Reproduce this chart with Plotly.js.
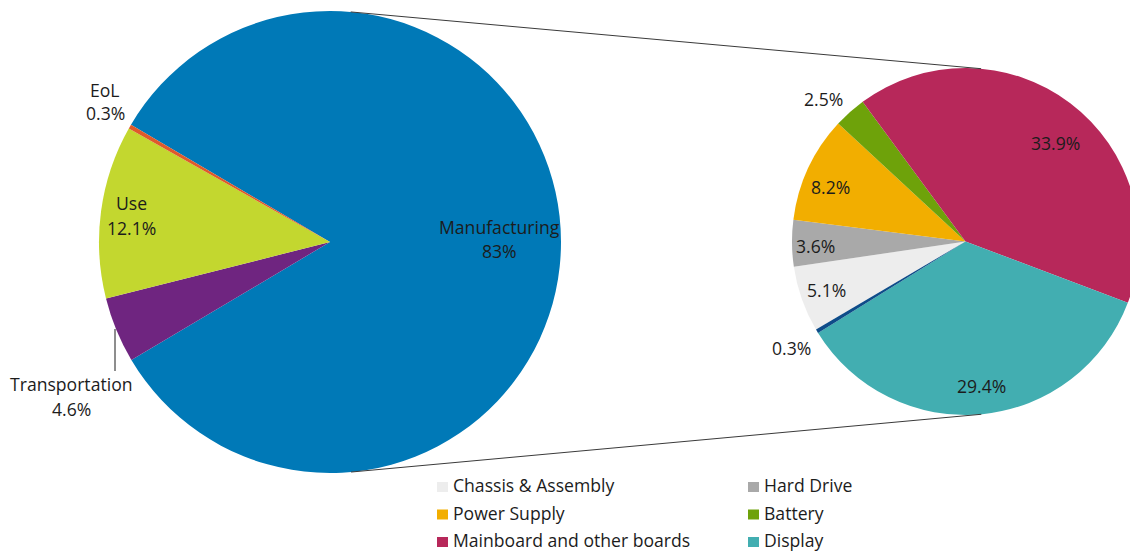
<!DOCTYPE html>
<html>
<head>
<meta charset="utf-8">
<script src="https://cdn.plot.ly/plotly-3.0.1.min.js"></script>
<style>
html, body { margin: 0; padding: 0; overflow: hidden; background: #ffffff; }
#chart { width: 1150px; height: 552px; }
</style>
</head>
<body>
<div id="chart"></div>
<script>
// ---- data ----
const mainLabels = ['Manufacturing', 'Transportation', 'Use', 'EoL'];
const mainValues = [83, 4.6, 12.1, 0.3];
const mainColors = ['#0079B7', '#6F2580', '#C3D72F', '#DF5A2B'];

const subLabels = ['Chassis & Assembly', 'Hard Drive', 'Power Supply', 'Battery',
                   'Mainboard and other boards', 'Display', 'Packaging'];
const subValues = [5.1, 3.6, 8.2, 2.5, 33.9, 29.4, 0.3];
const subColors = ['#EDEDED', '#A9A9A9', '#F2AE00', '#6EA20A', '#B7285A', '#42AEB1', '#0E4C89'];

// ---- geometry (pixels) ----
const W = 1150, H = 552;
const C1 = {x: 330, y: 242, r: 231};       // main pie
const C2 = {x: 965.5, y: 241.5, r: 173.5}; // breakdown pie
const px = x => x / W;
const py = y => 1 - y / H;
const FONT = {family: 'Open Sans, Noto Sans, sans-serif', size: 17.6, color: '#1c1c1c'};

function dom(c) {
  return {x: [px(c.x - c.r), px(c.x + c.r)], y: [py(c.y + c.r), py(c.y - c.r)]};
}

const traces = [
  {
    type: 'pie', labels: mainLabels, values: mainValues,
    marker: {colors: mainColors, line: {width: 0}},
    sort: false, direction: 'clockwise', rotation: -59.5,
    textinfo: 'none', hoverinfo: 'label+value', showlegend: false,
    domain: dom(C1)
  },
  {
    type: 'pie', labels: subLabels, values: subValues,
    marker: {colors: subColors, line: {width: 0}},
    sort: false, direction: 'clockwise', rotation: -120.5,
    textinfo: 'none', hoverinfo: 'label+value', showlegend: false,
    domain: dom(C2)
  }
];

const pct = v => v + '%';
const annotations = [];
function addText(t, x, y, opts) {
  annotations.push(Object.assign({
    text: t, x: px(x), y: py(y), xref: 'paper', yref: 'paper',
    xanchor: 'center', yanchor: 'middle', showarrow: false, font: FONT
  }, opts || {}));
}

// main pie labels: [name pos, value pos]
const mainLabelPos = [[499, 226.5, 499, 251], [71.5, 384, 71.5, 409], [131, 202.5, 131, 227.5], [105, 89.5, 105.5, 113]];
mainLabels.forEach((l, i) => {
  const p = mainLabelPos[i];
  addText(l, p[0], p[1]);
  addText(pct(mainValues[i]), p[2], p[3]);
});

// breakdown labels
const subLabelPos = [[826, 289.5], [816, 245.5], [830.5, 187], [823.5, 99.5], [1055, 142.5], [981, 386], [791, 348]];
subLabels.forEach((l, i) => {
  addText(pct(subValues[i]), subLabelPos[i][0], subLabelPos[i][1]);
});

const shapes = [];
// leader line for Transportation
shapes.push({type: 'line', xref: 'paper', yref: 'paper', x0: px(115), x1: px(115), y0: py(329), y1: py(371),
             line: {color: '#1c1c1c', width: 1}});

// connector lines (external tangents between the two pies)
(function () {
  const dx = C2.x - C1.x, dy = C2.y - C1.y;
  const d = Math.hypot(dx, dy);
  const phi = Math.atan2(dy, dx);
  const a = Math.acos((C1.r - C2.r) / d);
  [phi - a, phi + a].forEach(ang => {
    const nx = Math.cos(ang), ny = Math.sin(ang);
    shapes.push({type: 'line', xref: 'paper', yref: 'paper',
      x0: px(C1.x + C1.r * nx), y0: py(C1.y + C1.r * ny),
      x1: px(C2.x + C2.r * nx), y1: py(C2.y + C2.r * ny),
      line: {color: '#3a3a3a', width: 1}});
  });
})();

// legend (two columns)
const legCols = [437, 748], legRow0 = 487, legRowGap = 27.5;
subLabels.forEach((l, i) => {
  const col = i % 2, row = Math.floor(i / 2);
  const yc = legRow0 + row * legRowGap;
  if (yc + 6 > H) return;
  const x0 = legCols[col];
  shapes.push({type: 'rect', xref: 'paper', yref: 'paper',
    x0: px(x0), x1: px(x0 + 11), y0: py(yc + 5), y1: py(yc - 5),
    fillcolor: subColors[i], line: {width: 0}});
  addText(l, x0 + 15, yc - 2, {xanchor: 'left', borderpad: 0});
});

const layout = {
  width: W, height: H,
  margin: {l: 0, r: 0, t: 0, b: 0},
  paper_bgcolor: '#ffffff',
  showlegend: false,
  font: FONT,
  annotations: annotations,
  shapes: shapes
};

Plotly.newPlot('chart', traces, layout, {displayModeBar: false});
</script>
</body>
</html>
